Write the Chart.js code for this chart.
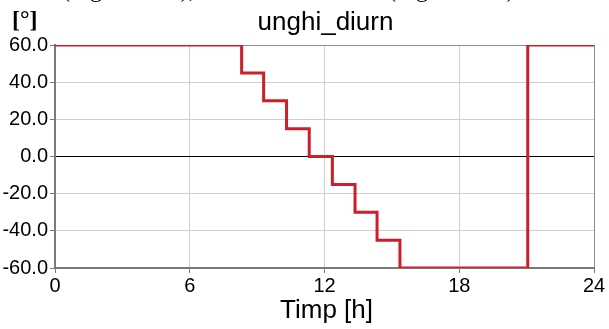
<!DOCTYPE html>
<html>
<head>
<meta charset="utf-8">
<script src="https://cdn.jsdelivr.net/npm/chart.js@4"></script>
<style>
html,body{margin:0;padding:0;background:#fff;}
#wrap{position:relative;width:609px;height:329px;}
</style>
</head>
<body>
<div id="wrap"><canvas id="c" width="609" height="329"></canvas></div>
<script>
// Data
const hours  = [0, 8.31, 9.29, 10.31, 11.32, 12.35, 13.36, 14.34, 15.36, 21.05, 24];
const angles = [60, 45, 30, 15, 0, -15, -30, -45, -60, 60, 60];
const xTicks = [0, 6, 12, 18, 24];
const yTicks = [-60, -40, -20, 0, 20, 40, 60];

const points = hours.map((h, i) => ({x: h, y: angles[i]}));

const textPlugin = {
  id: 'texts',
  afterDraw(chart) {
    const ctx = chart.ctx;
    const ca = chart.chartArea;
    ctx.save();
    ctx.fillStyle = '#000';
    // cut-off document text above the figure (only its lowest parts are visible)
    ctx.font = '24px "Liberation Serif"';
    ctx.textAlign = 'left';
    ctx.textBaseline = 'alphabetic';
    ctx.fillText('(Figura 4.12),', 62, -3);
    ctx.fillText('(Figura 4.13)', 388, -3);
    // unit label
    ctx.font = 'bold 24px "Liberation Serif"';
    ctx.fillText('[°]', 12, 27);
    // title
    ctx.font = '26px "Liberation Sans"';
    ctx.textAlign = 'center';
    ctx.fillText('unghi_diurn', (ca.left + ca.right) / 2 + 1, 30);
    // x axis title
    ctx.fillText('Timp [h]', (ca.left + ca.right) / 2 + 2, 318);
    ctx.restore();
  }
};

new Chart(document.getElementById('c'), {
  type: 'line',
  data: {
    datasets: [{
      data: points,
      stepped: 'before',
      borderColor: '#cc1f29',
      borderWidth: 3,
      pointRadius: 0,
      fill: false,
      tension: 0
    }]
  },
  options: {
    responsive: false,
    animation: false,
    layout: {padding: {top: 45, right: 15, left: 0, bottom: 0}},
    plugins: {legend: {display: false}, title: {display: false}, tooltip: {enabled: false}},
    scales: {
      x: {
        type: 'linear',
        min: 0, max: 24,
        afterFit(s) { s.height = 61; },
        afterBuildTicks(s) { s.ticks = xTicks.map(v => ({value: v})); },
        ticks: {
          font: {family: '"Liberation Sans"', size: 20},
          color: '#000',
          padding: 1,
          maxRotation: 0,
          autoSkip: false,
          callback: v => String(v)
        },
        grid: {
          color: ctx => (ctx.tick && ctx.tick.value === 24) ? '#8c8c8c' : '#cfcfcf',
          tickColor: '#7a7a7a',
          tickLength: 5,
          lineWidth: 1
        },
        border: {color: '#7a7a7a', width: 2}
      },
      y: {
        type: 'linear',
        min: -60, max: 60,
        afterFit(s) { s.width = 55; },
        afterBuildTicks(s) { s.ticks = yTicks.map(v => ({value: v})); },
        ticks: {
          font: {family: '"Liberation Sans"', size: 20},
          color: '#000',
          padding: 2,
          autoSkip: false,
          callback: v => Number(v).toFixed(1)
        },
        grid: {
          color: ctx => {
            if (!ctx.tick) return '#cfcfcf';
            if (ctx.tick.value === 0) return '#000';
            if (ctx.tick.value === 60) return '#8c8c8c';
            return '#cfcfcf';
          },
          tickColor: '#7a7a7a',
          tickLength: 5,
          lineWidth: 1
        },
        border: {color: '#7a7a7a', width: 2}
      }
    }
  },
  plugins: [textPlugin]
});
</script>
</body>
</html>
